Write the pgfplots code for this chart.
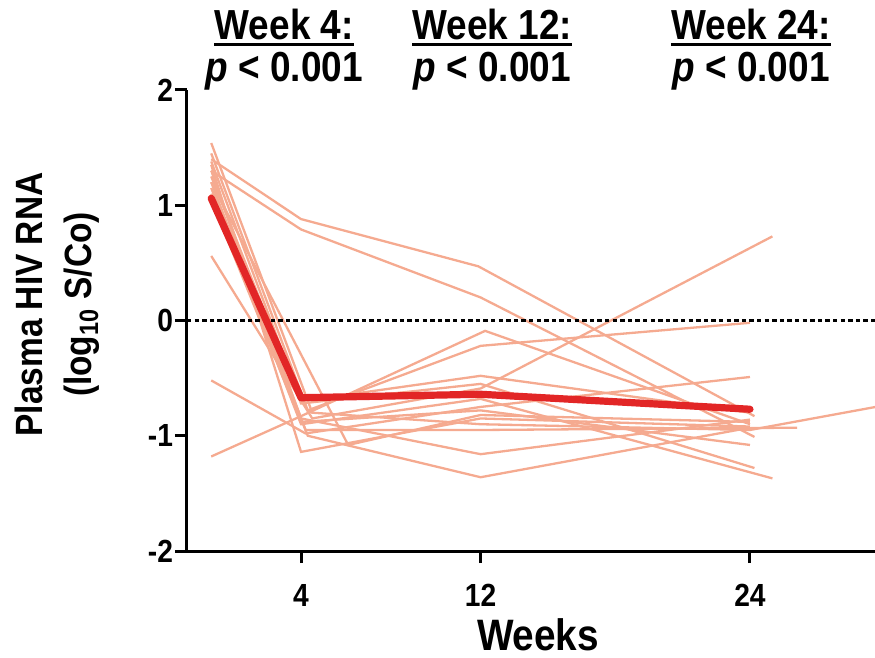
\documentclass[border=0pt]{standalone}
\usepackage{fontspec}
\setmainfont{Liberation Sans}[FakeStretch=0.88]
\usepackage{pgfplots}
\pgfplotsset{compat=1.18}
\definecolor{lite}{RGB}{245,170,144}
\definecolor{meanred}{RGB}{226,38,38}
\begin{document}
\begin{tikzpicture}
\begin{axis}[
 scale only axis, width=344pt, height=230.5pt,
 xmin=-1.08, xmax=29.57, ymin=-2, ymax=2,
 axis x line=bottom, axis y line=left,
 axis line style={-, line width=1.5pt, black},
 xtick={4,12,24}, ytick={-2,-1,0,1,2},
 tick align=outside, major tick length=6pt,
 tick style={line width=1.5pt, black},
 /pgf/number format/assume math mode=true,
 tick label style={font=\fontsize{16}{16}\selectfont\bfseries},
 xticklabel style={yshift=-7pt},
 yticklabel style={xshift=2.5pt},
 xlabel={Weeks},
 xlabel style={font=\fontsize{22}{22}\selectfont\bfseries, at={(axis description cs:0.5,0)}, anchor=base, yshift=-49.5pt, xshift=3.5pt, inner sep=0pt},
 ylabel={Plasma HIV RNA\\(log\textsubscript{10} S/Co)},
 ylabel style={font=\fontsize{19}{24.5}\selectfont\bfseries, align=center, at={(axis description cs:0,0.5)}, anchor=south, yshift=43.5pt, xshift=8pt, inner sep=0pt},
 clip mode=individual,
]
\addplot[lite, line width=1.15pt] coordinates {(0,1.40) (4,0.88) (11.9,0.47) (24.2,-0.83)};
\addplot[lite, line width=1.15pt] coordinates {(0,1.30) (4,0.79) (12,0.20) (24.2,-1.01)};
\addplot[lite, line width=1.15pt] coordinates {(0,-1.18) (4,-0.83) (12.2,-0.09) (24,-0.90)};
\addplot[lite, line width=1.15pt] coordinates {(0,-0.52) (4.2,-0.98) (12,-0.75) (24,-0.49)};
\addplot[lite, line width=1.15pt] coordinates {(0,0.56) (4.5,-0.85) (12,-0.59) (25,0.73)};
\addplot[lite, line width=1.15pt] coordinates {(0,1.45) (4.3,-0.78) (12,-0.22) (24,-0.02)};
\addplot[lite, line width=1.15pt] coordinates {(0,1.25) (4,-0.72) (12,-0.55) (24.2,-1.28)};
\addplot[lite, line width=1.15pt] coordinates {(0,1.35) (4,-1.14) (12,-0.85) (24,-0.92)};
\addplot[lite, line width=1.15pt] coordinates {(0,1.20) (6.1,-1.08) (12,-0.82) (24,-0.88)};
\addplot[lite, line width=1.15pt] coordinates {(0,1.15) (4.3,-1.00) (12,-1.36) (24,-0.93)};
\addplot[lite, line width=1.15pt] coordinates {(0,1.30) (4,-0.85) (12,-1.16) (24,-0.86)};
\addplot[lite, line width=1.15pt] coordinates {(0,1.10) (4,-0.90) (12,-0.68) (25,-1.37)};
\addplot[lite, line width=1.15pt] coordinates {(0,1.54) (4.5,-0.80) (12,-0.90) (24,-0.95) (31,-0.70)};
\addplot[lite, line width=1.15pt] coordinates {(0,1.20) (4.2,-0.95) (12,-0.95) (26.1,-0.93)};
\addplot[lite, line width=1.15pt] coordinates {(0,1.05) (4,-0.88) (12,-0.78) (24,-1.08)};
\addplot[lite, line width=1.15pt] coordinates {(0,1.38) (4,-0.70) (12,-0.48) (24,-0.80)};
\addplot[black, line width=1.1pt, dash pattern=on 2.2pt off 1.6pt] coordinates {(-1.08,0) (29.57,0)};
\addplot[meanred, line width=3.6pt, line cap=round, line join=round] coordinates {(0,1.06) (4,-0.67) (12,-0.64) (24,-0.77)};
\node[anchor=base, inner sep=0pt, font=\fontsize{21}{21}\selectfont\bfseries] (t1) at (axis cs:3.25,2.44) {Week 4:};
\node[anchor=base, inner sep=0pt, font=\fontsize{21}{21}\selectfont\bfseries] (t2) at (axis cs:12.52,2.44) {Week 12:};
\node[anchor=base, inner sep=0pt, font=\fontsize{21}{21}\selectfont\bfseries] (t3) at (axis cs:24.05,2.44) {Week 24:};
\draw[line width=1.5pt] ([yshift=-2.8pt]t1.base west) -- ([yshift=-2.8pt]t1.base east);
\draw[line width=1.5pt] ([yshift=-2.8pt]t2.base west) -- ([yshift=-2.8pt]t2.base east);
\draw[line width=1.5pt] ([yshift=-2.8pt]t3.base west) -- ([yshift=-2.8pt]t3.base east);
\node[anchor=base, inner sep=0pt, font=\fontsize{21}{21}\selectfont\bfseries] at (axis cs:3.25,2.07) {\textit{p} < 0.001};
\node[anchor=base, inner sep=0pt, font=\fontsize{21}{21}\selectfont\bfseries] at (axis cs:12.52,2.07) {\textit{p} < 0.001};
\node[anchor=base, inner sep=0pt, font=\fontsize{21}{21}\selectfont\bfseries] at (axis cs:24.05,2.07) {\textit{p} < 0.001};
\coordinate (bl) at (rel axis cs:0,0);
\coordinate (tr) at (rel axis cs:1,1);
\end{axis}
\pgfresetboundingbox
\path ([xshift=-93.5pt,yshift=-53pt]bl) rectangle ([yshift=45pt]tr);
\end{tikzpicture}
\end{document}
